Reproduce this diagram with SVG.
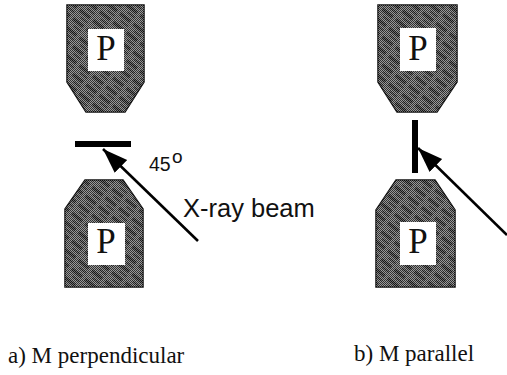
<svg xmlns="http://www.w3.org/2000/svg" width="507" height="375" viewBox="0 0 507 375">
<style>
.pole{fill:url(#hatch);stroke:#111;stroke-width:1.5}
.dith{fill:url(#dither);stroke:none}
.win{fill:#fff}
.p{font-family:"Liberation Serif",serif;font-size:35px;fill:#111;text-anchor:middle}
.cap{font-family:"Liberation Serif",serif;font-size:23px;fill:#111}
.lab{font-family:"Liberation Sans",sans-serif;fill:#111}
.bar{fill:#000}
.beam{stroke:#000;stroke-width:2.6;fill:none;marker-end:url(#ah)}
</style>
<defs>
<pattern id="hatch" width="17" height="11" patternUnits="userSpaceOnUse" patternTransform="rotate(38)">
<rect width="17" height="11" fill="#6e6e6e"/>
<rect x="1" y="1" width="13" height="3.5" fill="#2c2c2c"/>
<rect x="6" y="7" width="9" height="2" fill="#3c3c3c"/>
</pattern>
<pattern id="dither" width="2" height="2" patternUnits="userSpaceOnUse">
<rect x="0" y="0" width="1" height="1" fill="#000" fill-opacity="0.55" shape-rendering="crispEdges"/>
<rect x="1" y="1" width="1" height="1" fill="#000" fill-opacity="0.55" shape-rendering="crispEdges"/>
<rect x="1" y="0" width="1" height="1" fill="#fff" fill-opacity="0.3" shape-rendering="crispEdges"/>
<rect x="0" y="1" width="1" height="1" fill="#fff" fill-opacity="0.3" shape-rendering="crispEdges"/>
</pattern>
<marker id="ah" markerUnits="userSpaceOnUse" markerWidth="28" markerHeight="20" refX="25" refY="9" orient="auto">
<path d="M0 0L25 9L0 18Z" fill="#000"/>
</marker>
</defs>
<g id="pole-a-top"><path class="pole" d="M67 5H144V82L125 112H86L67 82Z"/><path class="dith" d="M67 5H144V82L125 112H86L67 82Z"/><rect class="win" x="88" y="29" width="36" height="42"/><text class="p" x="106" y="60">P</text></g>
<g id="pole-a-bottom"><path class="pole" d="M85 180H123L143 209V287H65V209Z"/><path class="dith" d="M85 180H123L143 209V287H65V209Z"/><rect class="win" x="88" y="223" width="37" height="42"/><text class="p" x="106" y="253">P</text></g>
<g id="pole-b-top"><path class="pole" d="M378 5H457V82L437 112H397L378 82Z"/><path class="dith" d="M378 5H457V82L437 112H397L378 82Z"/><rect class="win" x="400" y="28" width="36" height="43"/><text class="p" x="418" y="60">P</text></g>
<g id="pole-b-bottom"><path class="pole" d="M396 180H435L455 210V287H376V210Z"/><path class="dith" d="M396 180H435L455 210V287H376V210Z"/><rect class="win" x="400" y="222" width="36" height="43"/><text class="p" x="418" y="253">P</text></g>
<g id="sample-a"><rect class="bar" x="75" y="141" width="56" height="6"/></g>
<g id="sample-b"><rect class="bar" x="412" y="120" width="6" height="53"/></g>
<g id="connectors">
<path class="beam" d="M198 241L103 149"/>
<path class="beam" d="M507 235L418 148"/>
</g>
<g id="labels">
<text class="lab" x="149" y="171" font-size="19.5">45</text>
<text class="lab" x="172" y="163" font-size="19">o</text>
<text class="lab" x="183" y="217" font-size="25.5">X-ray beam</text>
<text class="cap" x="8" y="363">a) M perpendicular</text>
<text class="cap" x="354" y="361">b) M parallel</text>
</g>
</svg>
